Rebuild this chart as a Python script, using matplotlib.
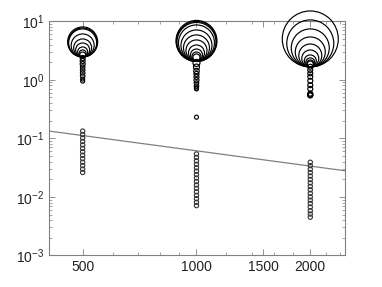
import matplotlib
matplotlib.use('Agg')
import matplotlib.pyplot as plt
from matplotlib.ticker import FixedLocator, FixedFormatter, LogLocator, NullFormatter

plt.rcParams['font.family'] = ['Liberation Sans', 'DejaVu Sans']
plt.rcParams['mathtext.default'] = 'regular'

# upper groups: (y value, circle diameter in px)
y_500 = [4.43, 4.34, 4.26, 3.86, 3.50, 3.23, 2.99, 2.82, 2.65,
         2.36, 2.10, 1.86, 1.65, 1.47, 1.31, 1.16, 1.03, 0.95]
d_500 = [30, 29, 28, 23, 18, 14, 10, 7, 6,
         5, 5, 5, 4.5, 4.5, 4.5, 4.5, 4, 4]

y_1000 = [4.61, 4.52, 4.43, 4.26, 3.86, 3.50, 3.17, 2.87, 2.65, 2.50, 2.41,
          1.94, 1.65, 1.41, 1.26, 1.12, 0.99, 0.88, 0.78, 0.72, 0.70, 0.23]
d_1000 = [41, 40, 39, 36, 31, 26, 21, 16, 12, 9, 7,
          7, 6, 5.5, 5, 5, 5, 4.5, 4.5, 4, 4, 4]

y_2000 = [4.98, 4.18, 3.50, 2.99, 2.60, 2.31, 2.10, 1.98, 1.90, 1.86,
          1.67, 1.47, 1.29, 1.13, 0.96, 0.81, 0.70, 0.58, 0.56, 0.55, 0.54]
d_2000 = [56, 47, 38, 30, 23, 17, 12, 9, 7, 6,
          5, 5, 5, 5, 5, 5, 5, 5, 5, 5, 5]

# lower groups
low_500 = [0.133, 0.116, 0.1013, 0.0885, 0.0772, 0.0674, 0.0589, 0.0514,
           0.0449, 0.0392, 0.0342, 0.0298, 0.0261]
low_1000 = [0.054, 0.0472, 0.0412, 0.0360, 0.0314, 0.0275, 0.0240, 0.0210,
            0.0183, 0.0160, 0.0140, 0.0122, 0.0106, 0.0093, 0.0081, 0.0071]
low_2000 = [0.039, 0.0341, 0.0297, 0.0260, 0.0227, 0.0198, 0.0173, 0.0151,
            0.0132, 0.0115, 0.0100, 0.0088, 0.0077, 0.0067, 0.0058, 0.0051, 0.0045]

line_x = [408, 2476]
line_y = [0.133, 0.0279]

xticks = [500, 1000, 1500, 2000]
xminor = [600, 700, 800, 900, 1200, 1400, 1600, 1800, 2200, 2400]

fig = plt.figure(figsize=(3.82, 2.87), dpi=100)
ax = fig.add_axes([0.129, 0.110, 0.775, 0.816])
ax.set_xscale('log')
ax.set_yscale('log')

px2pt = 72 / 100
for xv, ys, ds in [(500, y_500, d_500), (1000, y_1000, d_1000), (2000, y_2000, d_2000)]:
    ax.scatter([xv] * len(ys), ys, s=[(d * px2pt) ** 2 for d in ds],
               facecolors='none', edgecolors='black', linewidths=0.85,
               clip_on=False, zorder=3)

for xv, ys in [(500, low_500), (1000, low_1000), (2000, low_2000)]:
    ax.scatter([xv] * len(ys), ys, s=(4.3 * px2pt) ** 2,
               facecolors='none', edgecolors='#333333', linewidths=0.8, zorder=3)

ax.plot(line_x, line_y, color='#808080', lw=0.9)

ax.set_xlim(408, 2476)
ax.set_ylim(1e-3, 1e1)

ax.xaxis.set_major_locator(FixedLocator(xticks))
ax.xaxis.set_major_formatter(FixedFormatter([str(t) for t in xticks]))
ax.xaxis.set_minor_locator(FixedLocator(xminor))
ax.xaxis.set_minor_formatter(NullFormatter())
ax.yaxis.set_major_locator(LogLocator(base=10, numticks=10))
ax.yaxis.set_minor_locator(LogLocator(base=10, subs=range(2, 10), numticks=20))
ax.yaxis.set_minor_formatter(NullFormatter())

for s in ax.spines.values():
    s.set_color('#808080')
    s.set_linewidth(0.8)
ax.tick_params(which='both', direction='in', top=True, right=True,
               colors='#808080', labelcolor='#222222', labelsize=10)
ax.tick_params(which='major', length=4, width=0.6)
ax.tick_params(which='minor', length=2, width=0.5)

fig.savefig('out.png', dpi=100)
